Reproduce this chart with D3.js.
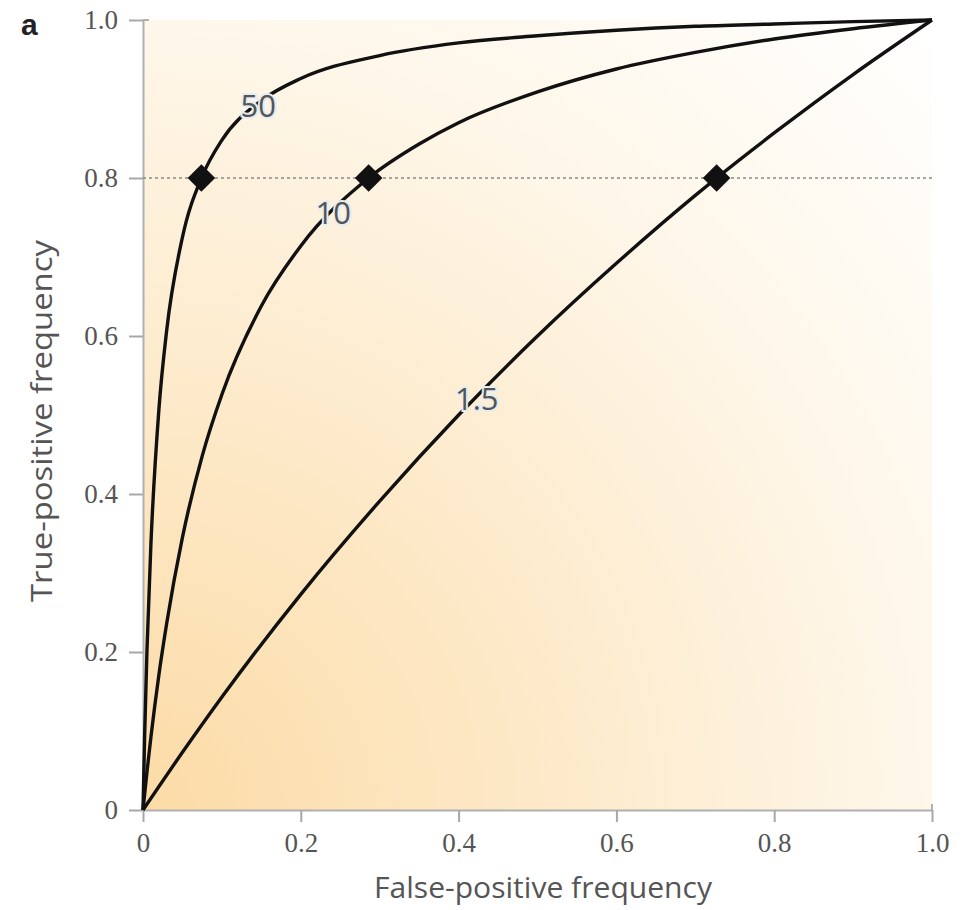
<!DOCTYPE html>
<html>
<head>
<meta charset="utf-8">
<script src="https://cdn.jsdelivr.net/npm/d3@7"></script>
<style>
  html, body { margin: 0; padding: 0; background: #fff; }
  svg { display: block; }
</style>
</head>
<body>
<svg id="chart" width="974" height="910"></svg>
<script>
// ROC curves for three odds ratios: [false-positive frequency, true-positive frequency]
const curveOR50 = [
  [0, 0], [0.002, 0.091], [0.005, 0.201], [0.01, 0.336], [0.02, 0.505], [0.03, 0.607],
  [0.05, 0.725], [0.075, 0.802], [0.1, 0.848], [0.15, 0.898], [0.2, 0.926], [0.3, 0.955],
  [0.4, 0.971], [0.5, 0.980], [0.6, 0.987], [0.7, 0.992], [0.8, 0.995], [0.9, 0.998], [1, 1]
];
const curveOR10 = [
  [0, 0], [0.005, 0.048], [0.01, 0.092], [0.02, 0.170], [0.03, 0.236], [0.05, 0.345],
  [0.075, 0.448], [0.1, 0.526], [0.15, 0.638], [0.2, 0.714], [0.286, 0.800], [0.35, 0.843],
  [0.4, 0.870], [0.5, 0.909], [0.6, 0.938], [0.7, 0.959], [0.8, 0.976], [0.9, 0.989], [1, 1]
];
const curveOR1_5 = [
  [0, 0], [0.05, 0.073], [0.1, 0.143], [0.2, 0.273], [0.3, 0.391], [0.4, 0.500],
  [0.5, 0.600], [0.6, 0.692], [0.7, 0.778], [0.727, 0.800], [0.8, 0.857], [0.9, 0.931], [1, 1]
];
const curveNames = ["50", "10", "1.5"];
// label anchor positions (data units)
const labelPos = [[0.146, 0.892], [0.241, 0.757], [0.423, 0.522]];
// points where each curve reaches 80% sensitivity
const markers = [[0.074, 0.8], [0.286, 0.8], [0.727, 0.8]];
const refLevel = 0.8;
const xTicks = [0, 0.2, 0.4, 0.6, 0.8, 1.0];
const yTicks = [0, 0.2, 0.4, 0.6, 0.8, 1.0];

const svg = d3.select("#chart");
const plotL = 143, plotR = 932, plotT = 20, plotB = 810;
const x = d3.scaleLinear().domain([0, 1]).range([plotL, plotR]);
const y = d3.scaleLinear().domain([0, 1]).range([plotB, plotT]);

// warm radial wash from the origin
const defs = svg.append("defs");
const grad = defs.append("radialGradient")
  .attr("id", "wash").attr("gradientUnits", "userSpaceOnUse")
  .attr("cx", plotL).attr("cy", plotB).attr("r", 1120);
[[0, "#fcdba6"], [0.35, "#fde9c8"], [0.7, "#fef7ea"], [1, "#ffffff"]].forEach(([o, c]) =>
  grad.append("stop").attr("offset", o).attr("stop-color", c));

svg.append("rect").attr("x", plotL).attr("y", plotT)
  .attr("width", plotR - plotL).attr("height", plotB - plotT)
  .attr("fill", "url(#wash)");

const fmt = d => d === 0 ? "0" : d3.format(".1f")(d);
const tickFont = "'Liberation Serif', 'DejaVu Serif', serif";
const sansFont = "'Open Sans', 'Noto Sans', sans-serif";

// x axis
const xAxis = svg.append("g").attr("transform", `translate(0,${plotB})`)
  .call(d3.axisBottom(x).tickValues(xTicks).tickFormat(fmt).tickSize(12).tickSizeOuter(0).tickPadding(11));
// y axis
const yAxis = svg.append("g").attr("transform", `translate(${plotL},0)`)
  .call(d3.axisLeft(y).tickValues(yTicks).tickFormat(fmt).tickSize(14).tickSizeOuter(0).tickPadding(11));
[xAxis, yAxis].forEach(g => {
  g.select(".domain").attr("stroke", "#b0b0b0").attr("stroke-width", 2);
  g.selectAll(".tick line").attr("stroke", "#a8a8a8").attr("stroke-width", 2);
  g.selectAll(".tick text").attr("fill", "#555").style("font-family", tickFont).style("font-size", "27px");
});
// small corner returns at the axis ends
svg.append("line").attr("x1", x(1)).attr("x2", x(1)).attr("y1", plotB).attr("y2", plotB - 6)
  .attr("stroke", "#b0b0b0").attr("stroke-width", 2);
svg.append("line").attr("x1", plotL).attr("x2", plotL + 6).attr("y1", y(1)).attr("y2", y(1))
  .attr("stroke", "#b0b0b0").attr("stroke-width", 2);

// dotted reference at 0.8
svg.append("line").attr("x1", x(0)).attr("x2", x(1)).attr("y1", y(refLevel)).attr("y2", y(refLevel))
  .attr("stroke", "#8a8a8a").attr("stroke-width", 1.6).attr("stroke-dasharray", "3,3");

// curves
const line = d3.line().x(d => x(d[0])).y(d => y(d[1])).curve(d3.curveMonotoneX);
[curveOR50, curveOR10, curveOR1_5].forEach(c => {
  svg.append("path").datum(c).attr("d", line)
    .attr("fill", "none").attr("stroke", "#111").attr("stroke-width", 3.4)
    .attr("stroke-linejoin", "round");
});

// diamonds
svg.selectAll(".mk").data(markers).join("path")
  .attr("d", d3.symbol().type(d3.symbolSquare).size(380))
  .attr("transform", d => `translate(${x(d[0])},${y(d[1])}) rotate(45)`)
  .attr("fill", "#111");

// curve labels
svg.selectAll(".lbl").data(curveNames).join("text")
  .attr("x", (d, i) => x(labelPos[i][0])).attr("y", (d, i) => y(labelPos[i][1]))
  .attr("text-anchor", "middle").attr("dominant-baseline", "central")
  .style("font-family", sansFont).style("font-size", "31px")
  .attr("fill", "#555").attr("stroke", "#e6edf3").attr("stroke-width", 4)
  .attr("paint-order", "stroke").text(d => d);

// axis titles
svg.append("text").attr("x", 543).attr("y", 886)
  .attr("text-anchor", "middle").attr("dominant-baseline", "central")
  .style("font-family", sansFont).style("font-size", "29px").attr("fill", "#555")
  .attr("textLength", 338).attr("lengthAdjust", "spacingAndGlyphs")
  .text("False-positive frequency");
svg.append("text").attr("transform", `translate(40,421) rotate(-90)`)
  .attr("text-anchor", "middle").attr("dominant-baseline", "central")
  .style("font-family", sansFont).style("font-size", "30px").attr("fill", "#555")
  .attr("textLength", 362).attr("lengthAdjust", "spacingAndGlyphs")
  .text("True-positive frequency");

// panel letter
svg.append("text").attr("x", 21).attr("y", 24).attr("dominant-baseline", "central")
  .style("font-family", "'Liberation Sans', Arial, sans-serif").style("font-weight", "bold")
  .style("font-size", "30px").attr("fill", "#222").text("a");
</script>
</body>
</html>
